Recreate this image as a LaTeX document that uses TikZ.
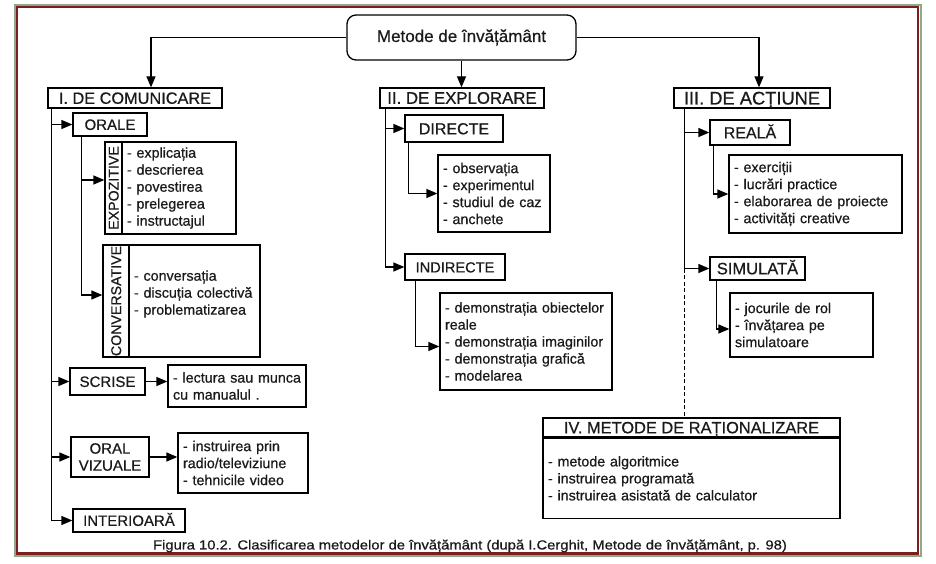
\documentclass[tikz,border=0pt]{standalone}
\usepackage{fontspec}
\setmainfont{Liberation Sans}[FakeBold=0.6]
\newfontfamily\capfam{Liberation Sans}[FakeStretch=1.12, FakeBold=0.6]
\usetikzlibrary{arrows.meta}

\definecolor{framegreen}{HTML}{8FA88A}
\definecolor{framered}{HTML}{7A1E1E}
\definecolor{ink}{HTML}{1A1A1A}

\newcommand\titlefont{\fontsize{17}{20}\selectfont}
\newcommand\headfont{\fontsize{16}{19}\selectfont}
\newcommand\labfont{\fontsize{15}{18}\selectfont}
\newcommand\sidefont{\fontsize{14.2}{16}\selectfont}
\newcommand\itemfont{\fontsize{14.3}{17}\selectfont}
\newcommand\capfont{\capfam\fontsize{13.2}{16}\selectfont}

\tikzset{
	box/.style={draw, line width=1.3pt, inner sep=0pt, text=ink, font=\labfont, text height=10.8pt, text depth=0pt},
	head/.style={box, font=\headfont, text height=11.6pt},
	side/.style={box, rotate=90, font=\sidefont, text height=10.2pt},
	lst/.style={draw, line width=1.3pt, align=left, inner xsep=5pt, inner ysep=2pt, text=ink, font=\itemfont},
	lnk/.style={line width=1.3pt},
	arr/.style={lnk, -{Triangle[length=11pt,width=9pt]}}
}

\begin{document}
\begin{tikzpicture}[x=1pt, y=-1pt]
			%%%%% START %%%%%
			
			\useasboundingbox (0, 0) rectangle (936, 564);
			\fill[white] (0, 0) rectangle (936, 564);
			\draw[line width=2pt, color=framegreen] (15, 5) rectangle (920.5, 556);
			\draw[line width=2.4pt, color=framered] (17, 7) rectangle (918, 553.5);
			
			\node[draw, line width=1.3pt, text=ink, rounded corners=9pt, font=\titlefont, minimum width=229pt, minimum height=45pt] (title) at (461.5, 37.5) {Metode de învățământ};
			
			\node[head, font=\fontsize{16.3}{19}\selectfont, minimum width=174pt, minimum height=20pt] (com) at (135, 98) {I. DE COMUNICARE};
			\node[head, font=\fontsize{16.8}{19}\selectfont, minimum width=164pt, minimum height=20pt] (expl) at (462, 98) {II. DE EXPLORARE};
			\node[head, font=\fontsize{18.3}{20}\selectfont, text height=13pt, minimum width=156pt, minimum height=20pt] (act) at (752, 98) {III. DE ACȚIUNE};
			
			\draw[arr] (title.west) -| ([xshift=16pt]com.north);
			\draw[arr] (title.south) -- (title.south |- expl.north);
			\draw[arr] (title.east) -| ([xshift=7pt]act.north);
			
			% I. de comunicare
			\node[box, minimum width=74pt, minimum height=23pt] (orale) at (110, 124.5) {ORALE};
			\node[side, minimum width=92pt, minimum height=17pt] (expoS) at (113.5, 188) {EXPOZITIVE};
			\node[lst, text width=104pt, minimum height=92pt] (expo) at (179, 188) {- explicația\\- descrierea\\- povestirea\\- prelegerea\\- instructajul};
			\node[side, minimum width=112pt, minimum height=26pt] (convS) at (116, 301) {CONVERSATIVE};
			\node[lst, text width=121pt, minimum height=112pt] (conv) at (194.5, 301) {- conversația\\- discuția colectivă\\- problematizarea\\\mbox{}};
			
			\node[box, minimum width=75pt, minimum height=27pt] (scrise) at (107.5, 381.5) {SCRISE};
			\node[lst, text width=128pt, minimum height=42pt] (scrL) at (237, 386) {- lectura sau munca\\cu manualul .};
			
			\node[draw, line width=1.3pt, inner sep=0pt, text=ink, align=center, minimum width=78pt, minimum height=40pt, font=\fontsize{15}{17}\selectfont] (orviz) at (110, 457) {ORAL\\VIZUALE};
			\node[lst, text width=120pt, minimum height=60pt] (orvizL) at (243, 463) {- instruirea prin\\radio/televiziune\\- tehnicile video};
			
			\node[box, minimum width=112pt, minimum height=23pt] (inter) at (129, 520.5) {INTERIOARĂ};
			
			\draw[arr] ([xshift=4pt]com.south west) |- (orale.west);
			\draw[arr] ([xshift=4pt]com.south west) |- (scrise.west);
			\draw[arr] ([xshift=4pt]com.south west) |- (orviz.west);
			\draw[arr] ([xshift=4pt]com.south west) |- (inter.west);
			\draw[arr] ([xshift=9pt]orale.south west) |- ([yshift=8pt]expoS.north);
			\draw[arr] ([xshift=9pt]orale.south west) |- ([yshift=6pt]convS.north);
			\draw[arr] (scrise.east) -- (scrise.east -| scrL.west);
			\draw[arr] (orviz.east) -- (orviz.east -| orvizL.west);
			
			% II. de explorare
			\node[head, minimum width=98pt, minimum height=27pt] (dir) at (454, 128.5) {DIRECTE};
			\node[lst, text width=102pt, minimum height=77pt] (dirL) at (494, 193.5) {- observația\\- experimentul\\- studiul de caz\\- anchete};
			\node[box, font=\fontsize{14.6}{18}\selectfont, minimum width=100pt, minimum height=26pt] (indir) at (455, 267) {INDIRECTE};
			\node[lst, text width=162pt, minimum height=97pt] (indirL) at (526, 341.5) {- demonstrația obiectelor\\reale\\- demonstrația imaginilor\\- demonstrația grafică\\- modelarea};
			
			\draw[arr] ([xshift=6pt]expl.south west) |- (dir.west);
			\draw[arr] ([xshift=6pt]expl.south west) |- (indir.west);
			\draw[arr] ([xshift=4pt]dir.south west) |- (dirL.west);
			\draw[arr] ([xshift=11pt]indir.south west) |- ([yshift=-5pt]indirL.west);
			
			% III. de actiune
			\node[head, minimum width=80pt, minimum height=25pt] (real) at (750, 132.5) {REALĂ};
			\node[lst, text width=163pt, minimum height=78pt] (realL) at (815.5, 194) {- exerciții\\- lucrări practice\\- elaborarea de proiecte\\- activități creative};
			\node[head, font=\fontsize{16.5}{19}\selectfont, minimum width=95pt, minimum height=23pt] (sim) at (757.5, 268.5) {SIMULATĂ};
			\node[lst, text width=133pt, minimum height=64pt] (simL) at (801.5, 325) {- jocurile de rol\\- învățarea pe\\simulatoare};
			
			\draw[arr] ([xshift=11pt]act.south west) |- (real.west);
			\draw[arr] ([xshift=11pt]act.south west) |- (sim.west);
			\draw[arr] ([xshift=4pt]real.south west) |- (realL.west);
			\draw[arr] ([xshift=7pt]sim.south west) |- ([yshift=-4pt]simL.west);
			
			% IV. de rationalizare
			\node[head, font=\fontsize{16.4}{19}\selectfont, minimum width=297pt, minimum height=19pt] (rat) at (691.5, 427.5) {IV. METODE DE RAȚIONALIZARE};
			\node[lst, text width=287pt, minimum height=80pt, anchor=north] (ratL) at (rat.south) {- metode algoritmice\\- instruirea programată\\- instruirea asistată de calculator};
			
			\coordinate (trunk) at ([xshift=11pt]act.south west);
			\draw[lnk, dash pattern=on 4pt off 2.5pt] (trunk |- sim.west) -- (trunk |- rat.north);
			
			\node[text=ink, font=\capfont] (caption) at (470, 546) {Figura 10.2. Clasificarea metodelor de învățământ (după I.Cerghit, Metode de învățământ, p. 98)};
			
			%%%%% END %%%%%
\end{tikzpicture}
\end{document}
